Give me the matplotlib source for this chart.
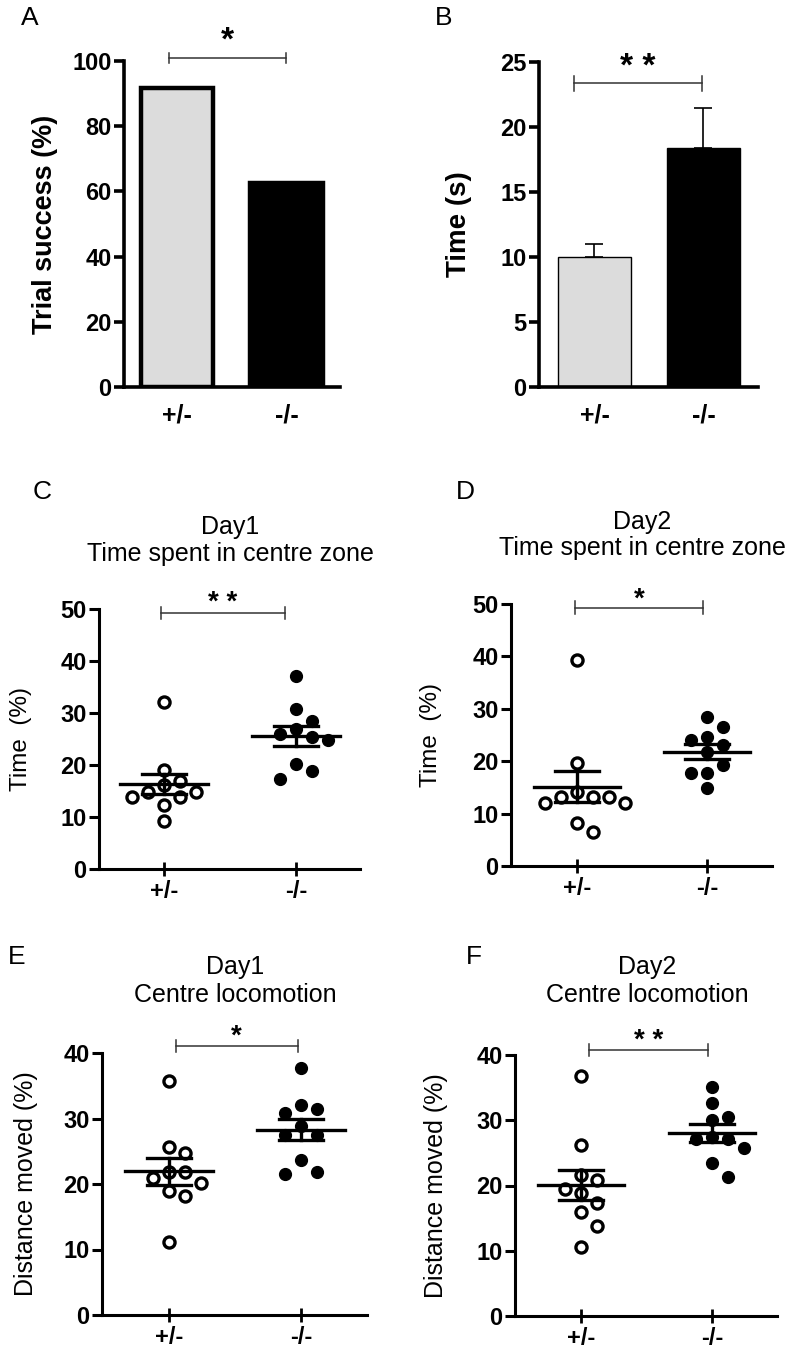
import numpy as np
import matplotlib
matplotlib.use("Agg")
import matplotlib.pyplot as plt

plt.rcParams['font.family'] = ['Liberation Sans', 'DejaVu Sans']

groups = ['+/-', '-/-']

# A: trial success
success = [91.7, 62.6]

# B: time (mean, sem)
time_mean = [10.0, 18.4]
time_sem = [1.0, 3.1]

# C: day1 time in centre zone (%)
c_het = [32.1, 19.0, 16.9, 16.1, 14.9, 14.9, 13.9, 13.9, 12.3, 9.3]
c_ko = [37.2, 30.8, 28.4, 26.9, 25.9, 25.4, 24.8, 20.2, 18.8, 17.4]

# D: day2 time in centre zone (%)
d_het = [39.3, 19.6, 14.2, 13.2, 13.2, 13.2, 12.0, 12.0, 8.3, 6.4]
d_ko = [28.5, 26.5, 24.7, 24.0, 23.1, 21.8, 19.3, 17.8, 17.8, 14.8]

# E: day1 centre locomotion (%)
e_het = [35.8, 25.7, 24.7, 21.9, 21.9, 20.9, 20.1, 19.0, 18.1, 11.1]
e_ko = [37.7, 32.1, 31.4, 30.8, 28.8, 27.5, 27.5, 23.6, 21.9, 21.5]

# F: day2 centre locomotion (%)
f_het = [36.8, 26.2, 21.6, 20.8, 19.5, 18.9, 17.3, 16.0, 13.8, 10.6]
f_ko = [35.1, 32.6, 30.5, 30.0, 27.4, 27.2, 27.2, 25.7, 23.5, 21.3]

W, H = 790, 1354
fig = plt.figure(figsize=(W / 100, H / 100), dpi=100)


def px_axes(left, top, right, bottom):
    return fig.add_axes([left / W, 1 - bottom / H, (right - left) / W, (bottom - top) / H])


def style(ax, lw, tsize):
    for s in ['top', 'right']:
        ax.spines[s].set_visible(False)
    for s in ['left', 'bottom']:
        ax.spines[s].set_linewidth(lw)
    ax.tick_params(axis='y', direction='out', length=7, width=lw, labelsize=tsize, pad=2)
    for lab in ax.get_yticklabels():
        lab.set_fontweight('bold')


def bracket(ax, x0, x1, y, h, star, sy, size=17):
    ax.plot([x0, x1], [y, y], color='#333333', lw=1.1, clip_on=False)
    ax.plot([x0, x0], [y - h, y + h], color='#333333', lw=1.1, clip_on=False)
    ax.plot([x1, x1], [y - h, y + h], color='#333333', lw=1.1, clip_on=False)
    ax.text((x0 + x1) / 2, sy, star, ha='center', va='center', fontsize=size,
            fontweight='bold', clip_on=False)


def swarm(vals, ppu, step_px=16, diam_px=15):
    # simple beeswarm: first free column nearest the centre
    placed = []
    cols = []
    for v in vals:
        for k in [0, 1, -1, 2, -2, 3, -3, 4, -4]:
            ok = all((k - kk) ** 2 * step_px ** 2 + ((v - vv) * ppu) ** 2 >= diam_px ** 2
                     for kk, vv in placed)
            if ok:
                break
        placed.append((k, v))
        cols.append(k)
    return np.array(cols)


def scatter_panel(ax, het, ko, ymax, xsep_px):
    ax.set_ylim(0, ymax)
    ppu = ax.bbox.height / ymax
    step = 16 / xsep_px
    for i, (vals, filled) in enumerate([(het, False), (ko, True)]):
        vals = np.array(vals)
        xs = i + swarm(vals, ppu) * step
        if filled:
            ax.plot(xs, vals, 'o', ms=8.5, color='black', mec='black', clip_on=False, zorder=3)
        else:
            ax.plot(xs, vals, 'o', ms=8, mfc='white', mec='black', mew=2.4,
                    clip_on=False, zorder=3)
        m = vals.mean()
        sem = vals.std(ddof=1) / np.sqrt(len(vals))
        ax.plot([i - 0.33, i + 0.33], [m, m], color='black', lw=2.4, zorder=4)
        ax.plot([i - 0.17, i + 0.17], [m + sem, m + sem], color='black', lw=2.4, zorder=4)
        ax.plot([i - 0.17, i + 0.17], [m - sem, m - sem], color='black', lw=2.4, zorder=4)
        ax.plot([i, i], [m - sem, m + sem], color='black', lw=2.4, zorder=4)
    ax.set_xticks([0, 1])
    ax.set_xticklabels(groups, fontweight='bold', fontsize=17)
    ax.tick_params(axis='x', direction='inout', length=10, width=2, pad=3)


def two_line_title(x, y1, y2, l1, l2, size=18):
    fig.text(x / W, 1 - y1 / H, l1, fontsize=size, ha='center', va='center')
    fig.text(x / W, 1 - y2 / H, l2, fontsize=size, ha='center', va='center')


# ---- A ----
axA = px_axes(124, 61, 340, 387)
axA.bar([0, 1], success, width=0.66, color=['#dcdcdc', 'black'], edgecolor='black', linewidth=3.2)
axA.set_ylim(0, 100)
axA.set_xlim(-0.484, 1.489)
axA.set_yticks([0, 20, 40, 60, 80, 100])
axA.set_xticks([0, 1])
axA.set_xticklabels(groups, fontweight='bold', fontsize=18)
axA.tick_params(axis='x', length=0, pad=12)
style(axA, 2.6, 17)
axA.set_ylabel('Trial success (%)', fontsize=19.5, fontweight='bold', labelpad=10)
bracket(axA, -0.07, 1.0, 100.9, 1.5, '*', 106, 24)

# ---- B ----
axB = px_axes(539, 62, 758, 387)
axB.bar([0, 1], time_mean, width=0.67, color=['#dcdcdc', 'black'], edgecolor='black', linewidth=1.0)
axB.errorbar([0, 1], time_mean, yerr=[[0, 0], time_sem], fmt='none', ecolor='black',
             elinewidth=1.2, capsize=6.5, capthick=1.2)
axB.set_ylim(0, 25)
axB.set_xlim(-0.509, 1.5)
axB.set_yticks([0, 5, 10, 15, 20, 25])
axB.set_xticks([0, 1])
axB.set_xticklabels(groups, fontweight='bold', fontsize=18)
axB.tick_params(axis='x', length=0, pad=12)
style(axB, 2.6, 17)
axB.set_ylabel('Time (s)', fontsize=20, fontweight='bold', labelpad=20)
bracket(axB, -0.19, 0.986, 23.35, 0.55, '* *', 24.6, 24)

# ---- C ----
axC = px_axes(99, 609, 360, 869)
axC.set_xlim(-0.492, 1.485)
scatter_panel(axC, c_het, c_ko, 50, 132)
axC.set_yticks([0, 10, 20, 30, 40, 50])
style(axC, 2.2, 17)
axC.set_ylabel('Time  (%)', fontsize=17.5, labelpad=20)
two_line_title(230, 527, 554, 'Day1', 'Time spent in centre zone')
bracket(axC, -0.025, 0.917, 49.2, 1.2, '* *', 51.2, 20)

# ---- D ----
axD = px_axes(511, 604, 772, 866)
axD.set_xlim(-0.508, 1.5)
scatter_panel(axD, d_het, d_ko, 50, 130)
axD.set_yticks([0, 10, 20, 30, 40, 50])
style(axD, 2.2, 17)
axD.set_ylabel('Time  (%)', fontsize=17.5, labelpad=22)
two_line_title(642, 522, 548, 'Day2', 'Time spent in centre zone')
bracket(axD, -0.015, 0.97, 49.3, 1.2, '*', 50.9, 20)

# ---- E ----
axE = px_axes(102, 1053, 367, 1315)
axE.set_xlim(-0.508, 1.5)
scatter_panel(axE, e_het, e_ko, 40, 132)
axE.set_yticks([0, 10, 20, 30, 40])
style(axE, 2.2, 17)
axE.set_ylabel('Distance moved (%)', fontsize=18, labelpad=18)
two_line_title(235, 967, 995, 'Day1', 'Centre locomotion')
bracket(axE, 0.05, 0.975, 41.1, 0.9, '*', 42.5, 20)

# ---- F ----
axF = px_axes(515, 1055, 777, 1316)
axF.set_xlim(-0.504, 1.496)
scatter_panel(axF, f_het, f_ko, 40, 131)
axF.set_yticks([0, 10, 20, 30, 40])
style(axF, 2.2, 17)
axF.set_ylabel('Distance moved (%)', fontsize=18, labelpad=20)
two_line_title(647, 967, 995, 'Day2', 'Centre locomotion')
bracket(axF, 0.064, 0.967, 40.8, 0.9, '* *', 42.2, 20)

# panel letters
for letter, x, y in [('A', 30, 18), ('B', 444, 18), ('C', 42, 492), ('D', 465, 492),
                     ('E', 17, 957), ('F', 474, 957)]:
    fig.text(x / W, 1 - y / H, letter, fontsize=19, ha='center', va='center')

fig.savefig('out.png', dpi=100)
